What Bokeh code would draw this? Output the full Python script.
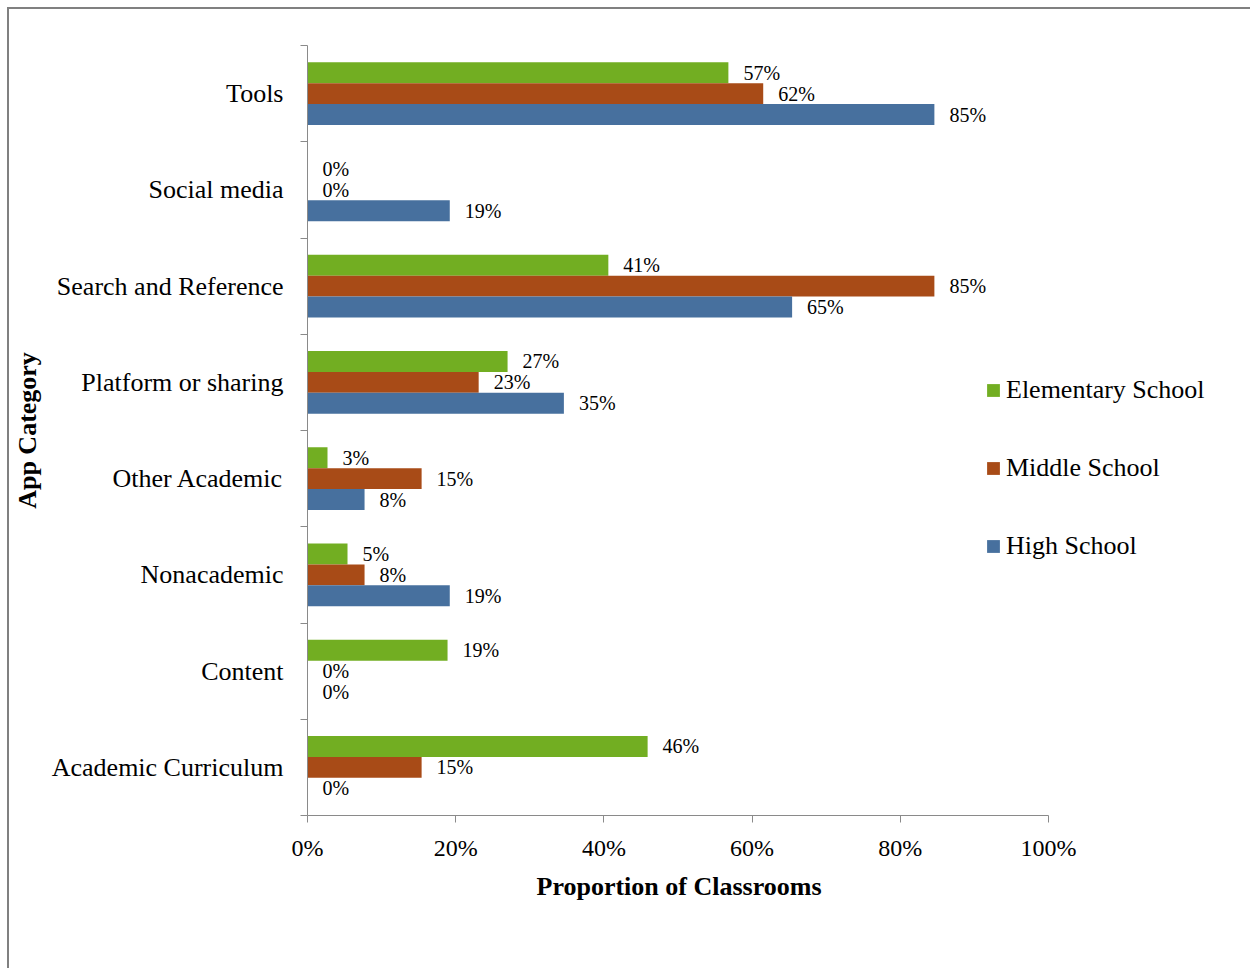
from bokeh.plotting import figure
from bokeh.models import (Range1d, FixedTicker, PrintfTickFormatter, ColumnDataSource,
                          Legend, LegendItem, Title)
from bokeh.core.properties import value
from bokeh.embed import file_html
from bokeh.resources import INLINE
import numpy as np

# Categories listed bottom -> top
categories = ["Academic Curriculum", "Content", "Nonacademic", "Other Academic",
              "Platform or sharing", "Search and Reference", "Social media", "Tools"]
series_names = ["Elementary School", "Middle School", "High School"]
elementary = [45.9, 18.9, 5.4, 2.7, 27.0, 40.6, 0.0, 56.8]
middle = [15.4, 0.0, 7.7, 15.4, 23.1, 84.6, 0.0, 61.5]
high = [0.0, 0.0, 19.2, 7.7, 34.6, 65.4, 19.2, 84.6]
x_ticks = [0, 20, 40, 60, 80, 100]
x_title = "Proportion of Classrooms"
y_title = "App Category"
colors = ["#72AE22", "#A84B17", "#47709E"]

FONT = "Liberation Serif"
AXIS_COLOR = "#8a8a8a"

W, H = 1250, 968
FRAME_L, FRAME_R = 307, 1230
AXIS_END_PX = 1048
x_end = 100 * (FRAME_R - FRAME_L) / (AXIS_END_PX - FRAME_L)

p = figure(width=W, height=H, output_backend="svg", toolbar_location=None,
           x_range=Range1d(0, x_end), y_range=Range1d(0, len(categories)),
           min_border_left=FRAME_L, min_border_right=W - FRAME_R, min_border_top=45,
           min_border_bottom=153)
p.outline_line_color = None
p.grid.visible = False
p.background_fill_color = None
p.border_fill_color = None
p.styles = {
    "background": "linear-gradient(#808080, #808080) 7px 7px / 2px 100% no-repeat, "
                  "linear-gradient(#808080, #808080) 7px 7px / 100% 2px no-repeat, white",
}

n = len(categories)
centers = np.arange(n) + 0.5
bar_h = 0.218
offsets = [bar_h, 0.0, -bar_h]
series = [elementary, middle, high]

items = []
for name, vals, off, col in zip(series_names, series, offsets, colors):
    src = ColumnDataSource(dict(y=centers + off, right=vals,
                                label=[f"{round(v)}%" for v in vals]))
    r = p.hbar(y="y", left=0, right="right", height=bar_h, source=src,
               fill_color=col, line_color=None)
    p.text(x="right", y="y", text="label", source=src, x_offset=15,
           text_align="left", text_baseline="middle",
           text_font=value(FONT), text_font_size="20px", text_color="black")
    items.append(LegendItem(label=name, renderers=[r]))

# X axis
xa = p.xaxis[0]
xa.bounds = (0, 100)
xa.ticker = FixedTicker(ticks=x_ticks, minor_ticks=[])
xa.formatter = PrintfTickFormatter(format="%d%%")
xa.major_label_text_font = FONT
xa.major_label_text_font_size = "24px"
xa.major_label_text_color = "black"
xa.major_label_standoff = 12
xa.axis_line_color = AXIS_COLOR
xa.major_tick_line_color = AXIS_COLOR
xa.major_tick_out = 7
xa.major_tick_in = 0
xa.minor_tick_line_color = None

# X axis title, centred under the 0-100% span of the axis
xt = Title(text=x_title, align="left", offset=229, standoff=13,
           text_font=FONT, text_font_style="bold", text_font_size="26px",
           text_color="black")
p.add_layout(xt, "below")

# Y axis
ya = p.yaxis[0]
ya.ticker = FixedTicker(ticks=list(centers), minor_ticks=list(range(n + 1)))
ya.major_label_overrides = {float(c): cat for c, cat in zip(centers, categories)}
ya.axis_label = y_title
ya.axis_label_text_font = FONT
ya.axis_label_text_font_style = "bold"
ya.axis_label_text_font_size = "26px"
ya.axis_label_text_color = "black"
ya.axis_label_standoff = 7
ya.major_label_text_font = FONT
ya.major_label_text_font_size = "26px"
ya.major_label_text_color = "black"
ya.major_label_standoff = 17
ya.axis_line_color = AXIS_COLOR
ya.major_tick_line_color = None
ya.major_tick_out = 0
ya.major_tick_in = 0
ya.minor_tick_line_color = AXIS_COLOR
ya.minor_tick_out = 7
ya.minor_tick_in = 0

legend = Legend(items=items, location=(678, 254), orientation="vertical",
                background_fill_alpha=0, border_line_color=None,
                label_text_font=FONT, label_text_font_size="26px",
                label_text_color="black", glyph_width=16, glyph_height=16,
                label_standoff=5, label_height=30, spacing=48, padding=0, margin=0)
p.add_layout(legend, "center")

open("out.html", "w").write(file_html(p, INLINE))
